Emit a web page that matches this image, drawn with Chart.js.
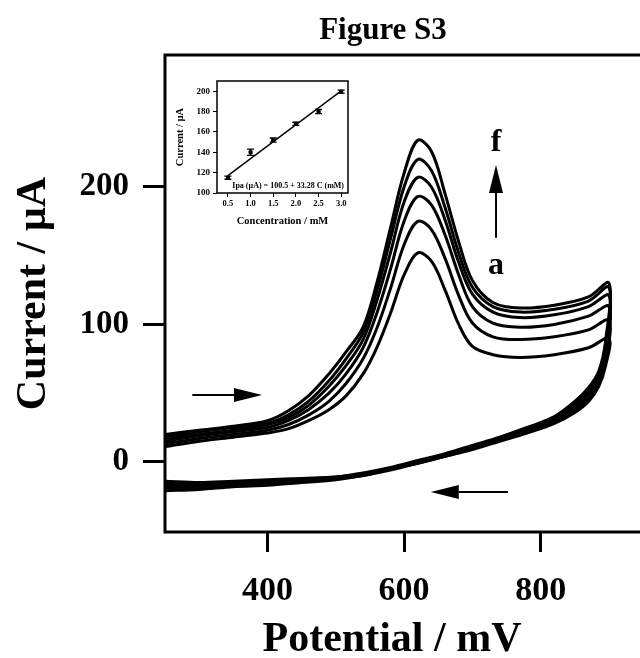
<!DOCTYPE html>
<html>
<head>
<meta charset="utf-8">
<script src="https://cdn.jsdelivr.net/npm/chart.js@4.4.1/dist/chart.umd.min.js"></script>
<style>
  html, body { margin: 0; padding: 0; background: #fff; overflow: hidden; width: 640px; height: 658px; }
  #wrap { position: relative; width: 640px; height: 658px; overflow: hidden; }
  #main { position: absolute; left: 0; top: 0; }
  #inset { position: absolute; left: 170px; top: 68px; }
  #title { position: absolute; left: 0; top: 11px; width: 766px; text-align: center;
           font: bold 31px 'Liberation Serif', serif; color: #000; }
</style>
</head>
<body>
<div id="wrap">
  <canvas id="main" width="660" height="658"></canvas>
  <canvas id="inset" width="190" height="160"></canvas>
  <div id="title">Figure S3</div>
</div>
<script>
// potential grid (mV) for the anodic (forward) and cathodic (reverse) sweeps
const potentialFwd = [250, 300, 350, 400, 430, 460, 490, 515, 540, 560, 580, 600, 620, 640, 660, 680, 700, 730, 770, 820, 870, 900];
const potentialRev = [895, 885, 870, 850, 820, 780, 740, 700, 660, 620, 580, 540, 500, 450, 400, 350, 300, 250];

// current (µA), curves a -> f
const fwdA = [11, 15, 18, 21, 24, 30, 38, 48, 64, 83, 108, 136, 152, 146, 125, 100, 84, 78, 76, 78, 83, 90];
const fwdB = [13, 17, 20, 23, 27, 34, 44, 57, 75, 97, 126, 158, 175, 169, 148, 121, 101, 91, 89, 91, 96, 103];
const fwdC = [15, 19, 22, 25, 30, 38, 50, 64, 83, 108, 140, 175, 193, 187, 165, 136, 113, 101, 98, 100, 106, 113];
const fwdD = [17, 20, 23, 27, 32, 41, 55, 70, 89, 117, 152, 189, 207, 200, 176, 145, 122, 109, 105, 107, 113, 121];
const fwdE = [18, 22, 25, 28, 34, 44, 59, 75, 94, 124, 162, 200, 220, 212, 185, 152, 127, 113, 109, 111, 117, 127];
const fwdF = [20, 23, 26, 30, 37, 48, 64, 80, 98, 130, 170, 210, 234, 226, 195, 160, 132, 116, 112, 114, 120, 130];

const revA = [70, 55, 44, 36, 28, 21, 15, 9, 4, -1, -6, -10, -13, -15, -17, -18, -20, -21];
const revB = [74, 57, 46, 38, 29, 22, 16, 10, 4, -1, -5, -10, -12, -14, -16, -17, -19, -19];
const revC = [78, 60, 49, 39, 30, 22, 16, 10, 5, 0, -5, -9, -12, -14, -15, -17, -18, -18];
const revD = [82, 62, 50, 41, 31, 23, 17, 11, 5, 0, -5, -9, -12, -13, -15, -16, -17, -17];
const revE = [85, 64, 52, 43, 32, 24, 17, 11, 5, 0, -5, -9, -11, -13, -14, -15, -16, -16];
const revF = [88, 66, 54, 44, 33, 25, 18, 12, 6, 1, -4, -8, -11, -12, -13, -14, -15, -14];

const xTicks = [400, 600, 800];
const yTicks = [0, 100, 200];

// inset: calibration plot
const conc = [0.5, 1.0, 1.5, 2.0, 2.5, 3.0];
const ipa = [115, 140, 152, 168, 180, 199.5];
const ipaErr = [1.5, 3, 2, 1.5, 2, 1.5];
const fitConc = [0.5, 3.0];
const fitIpa = [117.1, 200.3];
const insetXTicks = [0.5, 1.0, 1.5, 2.0, 2.5, 3.0];
const insetYTicks = [100, 120, 140, 160, 180, 200];

const serif = "'Liberation Serif', 'Times New Roman', serif";

const loops = [[fwdA, revA], [fwdB, revB], [fwdC, revC], [fwdD, revD], [fwdE, revE], [fwdF, revF]];
const mainSets = loops.map(([fwd, rev]) => ({
  data: potentialFwd.map((x, i) => ({ x, y: fwd[i] }))
    .concat(potentialRev.map((x, i) => ({ x, y: rev[i] }))),
  showLine: true,
  borderColor: '#000',
  borderWidth: 3,
  pointRadius: 0,
  tension: 0.35,
  fill: false
}));

// arrows and labels, in data coordinates
const arrows = [
  { from: [290, 48.7], to: [392, 48.7] },
  { from: [752, -21.9], to: [639, -21.9] },
  { from: [734.6, 163], to: [734.6, 216] }
];
const curveLabels = [
  { text: 'f', at: [734.6, 232] },
  { text: 'a', at: [734.6, 143] }
];

const frame = {
  id: 'frame',
  afterDatasetsDraw(chart, args, opts) {
    const { ctx, chartArea: a } = chart;
    ctx.save();
    ctx.lineWidth = opts.width;
    ctx.strokeStyle = '#000';
    ctx.strokeRect(a.left, a.top, a.right - a.left, a.bottom - a.top);
    ctx.restore();
  }
};

const annotate = {
  id: 'annotate',
  afterDraw(chart) {
    const { ctx, chartArea, scales: { x, y } } = chart;
    ctx.save();
    ctx.strokeStyle = '#000';
    ctx.fillStyle = '#000';
    ctx.lineWidth = 2;
    arrows.forEach(ar => {
      const x0 = x.getPixelForValue(ar.from[0]), y0 = y.getPixelForValue(ar.from[1]);
      const x1 = x.getPixelForValue(ar.to[0]), y1 = y.getPixelForValue(ar.to[1]);
      const ang = Math.atan2(y1 - y0, x1 - x0);
      const hl = 28, hw = 7;
      const bx = x1 - hl * Math.cos(ang), by = y1 - hl * Math.sin(ang);
      ctx.beginPath();
      ctx.moveTo(x0, y0);
      ctx.lineTo(bx, by);
      ctx.stroke();
      ctx.beginPath();
      ctx.moveTo(x1, y1);
      ctx.lineTo(bx + hw * Math.sin(ang), by - hw * Math.cos(ang));
      ctx.lineTo(bx - hw * Math.sin(ang), by + hw * Math.cos(ang));
      ctx.closePath();
      ctx.fill();
    });
    ctx.textAlign = 'center';
    ctx.textBaseline = 'middle';
    ctx.font = 'bold 32px ' + serif;
    curveLabels.forEach(l => {
      ctx.fillText(l.text, x.getPixelForValue(l.at[0]), y.getPixelForValue(l.at[1]));
    });
    // x axis title, centred on the visible part of the frame
    ctx.font = 'bold 42px ' + serif;
    ctx.fillText('Potential / mV', chartArea.left + 227, chartArea.bottom + 108);
    ctx.restore();
  }
};

new Chart(document.getElementById('main'), {
  type: 'scatter',
  data: { datasets: mainSets },
  options: {
    responsive: false,
    animation: false,
    devicePixelRatio: 1,
    layout: { padding: { top: 55, right: 10, left: 0, bottom: 0 } },
    plugins: { legend: { display: false }, tooltip: { enabled: false }, frame: { width: 3 } },
    scales: {
      x: {
        type: 'linear',
        min: 250,
        max: 960,
        afterBuildTicks: axis => { axis.ticks = xTicks.map(v => ({ value: v })); },
        afterFit: axis => { axis.height = 126; },
        ticks: { color: '#000', font: { family: serif, weight: 'bold', size: 34 }, padding: 19 },
        grid: { drawOnChartArea: false, drawTicks: true, tickLength: 20, tickWidth: 3, tickColor: '#000' },
        border: { display: false },
        title: { display: false }
      },
      y: {
        type: 'linear',
        min: -51,
        max: 296,
        afterBuildTicks: axis => { axis.ticks = yTicks.map(v => ({ value: v })); },
        afterFit: axis => { axis.width = 165; },
        ticks: { color: '#000', font: { family: serif, weight: 'bold', size: 33 }, padding: 14 },
        grid: { drawOnChartArea: false, drawTicks: true, tickLength: 22, tickWidth: 3, tickColor: '#000' },
        border: { display: false },
        title: { display: true, text: 'Current / µA', color: '#000',
                 font: { family: serif, weight: 'bold', size: 42 }, padding: { top: 9, bottom: 0 } }
      }
    }
  },
  plugins: [frame, annotate]
});

// inset chart
const errorBars = {
  id: 'errorBars',
  afterDatasetsDraw(chart) {
    const { ctx, scales: { x, y } } = chart;
    ctx.save();
    ctx.strokeStyle = '#000';
    ctx.lineWidth = 1.3;
    conc.forEach((c, i) => {
      const px = x.getPixelForValue(c);
      const top = y.getPixelForValue(ipa[i] + ipaErr[i]);
      const bot = y.getPixelForValue(ipa[i] - ipaErr[i]);
      ctx.beginPath();
      ctx.moveTo(px, top); ctx.lineTo(px, bot);
      ctx.moveTo(px - 3.5, top); ctx.lineTo(px + 3.5, top);
      ctx.moveTo(px - 3.5, bot); ctx.lineTo(px + 3.5, bot);
      ctx.stroke();
    });
    ctx.font = 'bold 8px ' + serif;
    ctx.fillStyle = '#000';
    ctx.textAlign = 'center';
    ctx.textBaseline = 'middle';
    ctx.fillText('Ipa (µA) = 100.5 + 33.28 C (mM)', x.getPixelForValue(1.83), y.getPixelForValue(107));
    ctx.restore();
  }
};

new Chart(document.getElementById('inset'), {
  type: 'scatter',
  data: {
    datasets: [
      {
        data: conc.map((c, i) => ({ x: c, y: ipa[i] })),
        pointStyle: 'rect',
        pointRadius: 2.2,
        backgroundColor: '#000',
        borderColor: '#000',
        showLine: false
      },
      {
        data: fitConc.map((c, i) => ({ x: c, y: fitIpa[i] })),
        showLine: true,
        borderColor: '#000',
        borderWidth: 1.4,
        pointRadius: 0
      }
    ]
  },
  options: {
    responsive: false,
    animation: false,
    devicePixelRatio: 1,
    layout: { padding: { top: 13, right: 12, left: 0, bottom: 0 } },
    plugins: { legend: { display: false }, tooltip: { enabled: false }, frame: { width: 1.5 } },
    scales: {
      x: {
        type: 'linear',
        min: 0.26,
        max: 3.15,
        afterBuildTicks: axis => { axis.ticks = insetXTicks.map(v => ({ value: v })); },
        afterFit: axis => { axis.height = 35; },
        ticks: { color: '#000', font: { family: serif, weight: 'bold', size: 8.5 }, padding: 2,
                 callback: v => v.toFixed(1) },
        grid: { drawOnChartArea: false, tickLength: 4, tickWidth: 1, tickColor: '#000' },
        border: { display: false },
        title: { display: true, text: 'Concentration / mM', color: '#000',
                 font: { family: serif, weight: 'bold', size: 10.5 }, padding: 0 }
      },
      y: {
        type: 'linear',
        min: 100,
        max: 210,
        afterBuildTicks: axis => { axis.ticks = insetYTicks.map(v => ({ value: v })); },
        afterFit: axis => { axis.width = 47; },
        ticks: { color: '#000', font: { family: serif, weight: 'bold', size: 9 }, padding: 3 },
        grid: { drawOnChartArea: false, tickLength: 4, tickWidth: 1, tickColor: '#000' },
        border: { display: false },
        title: { display: true, text: 'Current / µA', color: '#000',
                 font: { family: serif, weight: 'bold', size: 10.5 }, padding: { top: 4, bottom: 0 } }
      }
    }
  },
  plugins: [frame, errorBars]
});
</script>
</body>
</html>
